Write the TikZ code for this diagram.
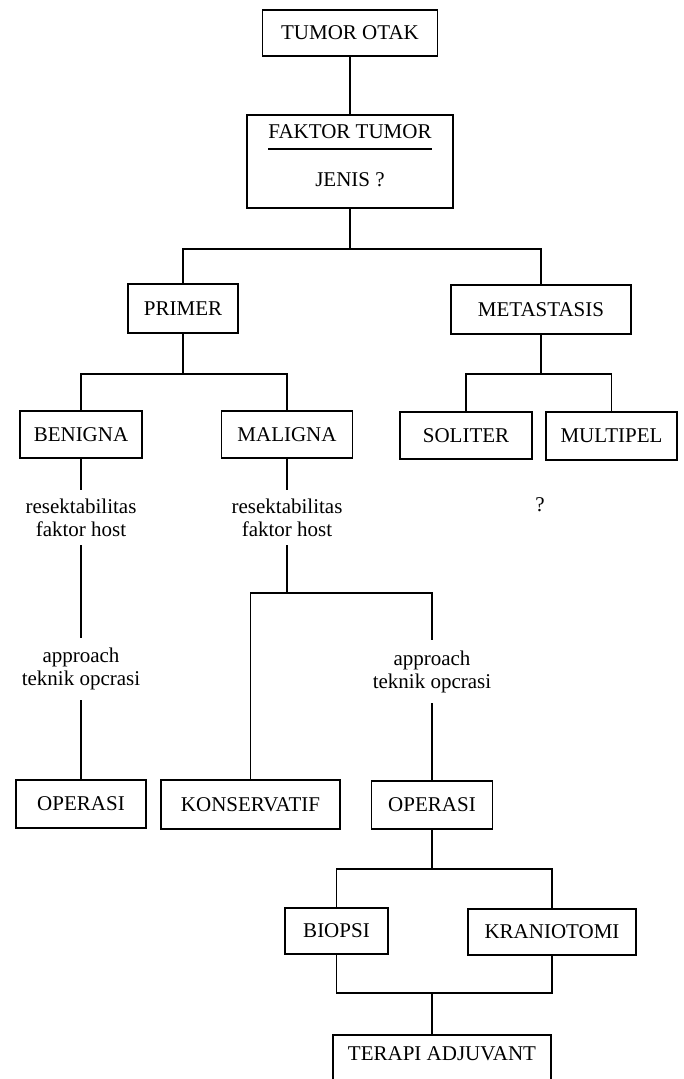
\documentclass[tikz,border=0pt]{standalone}
\usepackage{fontspec}
\setmainfont{Liberation Serif}
\usetikzlibrary{positioning,calc}

\begin{document}
\begin{tikzpicture}[
    x=1pt, y=-1pt,
    box/.style={rectangle, draw, line width=1.8pt, inner sep=0pt, align=center,
                minimum height=48pt, font=\fontsize{21}{23}\selectfont},
    note/.style={rectangle, inner sep=0pt, align=center,
                 font=\fontsize{21}{23}\selectfont},
    link/.style={line width=1.8pt}
]
\clip (0,0) rectangle (683,1079);
\node[box, minimum width=175pt, minimum height=46pt] (otak) at (350,33) {TUMOR OTAK};
\node[box, minimum width=206pt, minimum height=93pt, below=57pt of otak] (faktor) {};
\node[note, text depth=0pt, inner ysep=9.5pt] (faktortitle) at (350,132) {FAKTOR TUMOR};
\node[note] (jenis) at (350,180) {JENIS ?};
\node[box, minimum width=110pt, minimum height=49pt] (primer) at (183,308.5) {PRIMER};
\node[box, minimum width=180pt, minimum height=49pt] (meta) at (541,309.5) {METASTASIS};
\node[box, minimum width=122pt, minimum height=47pt] (benigna) at (81,434.5) {BENIGNA};
\node[box, minimum width=131pt, minimum height=47pt] (maligna) at (287,434.5) {MALIGNA};
\node[box, minimum width=132pt, minimum height=47pt] (soliter) at (466,435.5) {SOLITER};
\node[box, minimum width=131pt, minimum height=48pt] (multipel) at (611.5,436) {MULTIPEL};
\node[note] (tanya) at (540,505) {?};
\node[note, minimum height=55pt] (resekA) at (81,517.5) {resektabilitas\\faktor host};
\node[note, minimum height=55pt] (resekB) at (287,517.5) {resektabilitas\\faktor host};
\node[note, minimum height=62pt] (approachA) at (81,669) {approach\\teknik opcrasi};
\node[note, minimum height=63pt] (approachB) at (432,671.5) {approach\\teknik opcrasi};
\node[box, minimum width=130pt, minimum height=48pt] (operasiA) at (81,804) {OPERASI};
\node[box, minimum width=179pt, minimum height=49pt] (konserv) at (250.5,804.5) {KONSERVATIF};
\node[box, minimum width=121pt, minimum height=48pt] (operasiB) at (432,805) {OPERASI};
\node[box, minimum width=103pt, minimum height=46pt] (biopsi) at (336.5,931) {BIOPSI};
\node[box, minimum width=168pt, minimum height=46pt] (kranio) at (552,932) {KRANIOTOMI};
\node[box, minimum width=218pt, text height=21pt, text depth=30pt, inner ysep=5pt,
      anchor=north] (terapi) at (442,1034) {TERAPI ADJUVANT};
\coordinate (join) at (432,993);
\draw[link] (faktortitle.south west) -- (faktortitle.south east);
\draw[link] (otak) -- (faktor);
\draw[link] (faktor.south) -- ++(0,40) -| (primer.north);
\draw[link] (faktor.south) -- ++(0,40) -| (meta.north);
\draw[link] (primer.south) -- ++(0,40) -| (benigna.north);
\draw[link] (primer.south) -- ++(0,40) -| (maligna.north);
\draw[link] (meta.south) -- ++(0,39) -| (soliter.north);
\draw[link] (meta.south) -- ++(0,39) -| (multipel.north);
\draw[link] (benigna) -- (resekA);
\draw[link] (resekA) -- (approachA);
\draw[link] (approachA) -- (operasiA);
\draw[link] (maligna) -- (resekB);
\draw[link] (resekB.south) -- ++(0,48) -| (konserv.north);
\draw[link] (resekB.south) -- ++(0,48) -| (approachB.north);
\draw[link] (approachB) -- (operasiB);
\draw[link] (operasiB.south) -- ++(0,39) -| (biopsi.north);
\draw[link] (operasiB.south) -- ++(0,39) -| (kranio.north);
\draw[link] (biopsi.south) |- (join) -| (kranio.south);
\draw[link] (join) -- (join |- terapi.north);
\end{tikzpicture}
\end{document}
